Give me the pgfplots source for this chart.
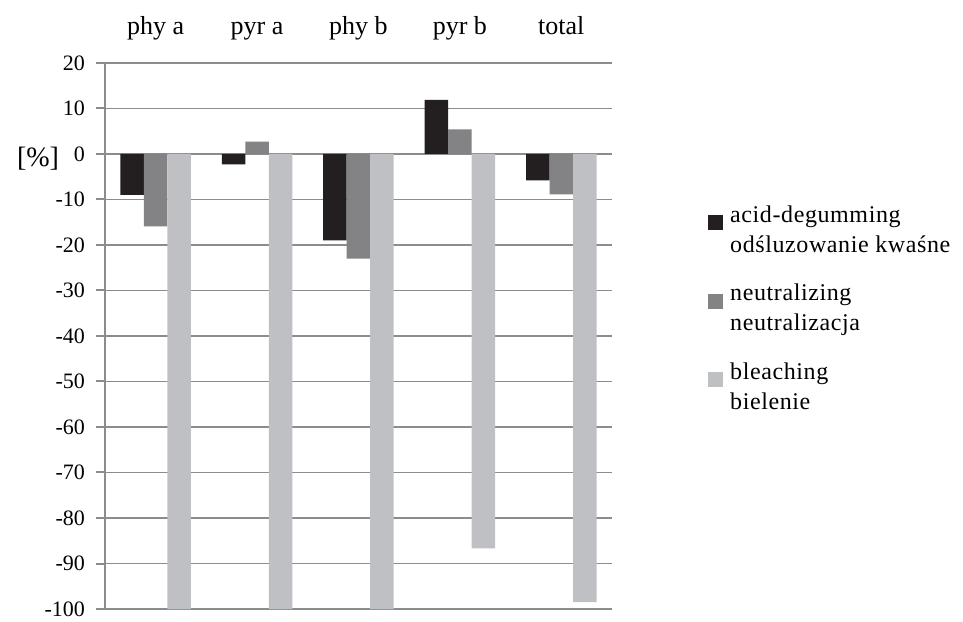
\documentclass[border=0pt]{standalone}
\usepackage{fontspec}
\setmainfont{Liberation Serif}
\newfontfamily\legfont[LetterSpace=2.5]{Liberation Serif}
\usepackage{pgfplots}
\pgfplotsset{compat=1.18}
\definecolor{c1}{HTML}{231F20}
\definecolor{c2}{HTML}{838386}
\definecolor{c3}{HTML}{BFC0C4}
\definecolor{gridc}{HTML}{8C8C8C}
\begin{document}
\begin{tikzpicture}
\path[use as bounding box] (-52.5pt,-6pt) rectangle (429pt,304.5pt);
\begin{axis}[
  scale only axis, width=253.5pt, height=273pt,
  clip=false,
  ymin=-100, ymax=20, ytick={-100,-90,...,20},
  xmin=-0.5, xmax=4.5, xtick={0,1,2,3,4},
  xticklabels={phy a, pyr a, phy b, pyr b, total},
  ybar=0pt, bar width=11.75pt,
  axis x line*=top, axis y line*=left,
  x axis line style={draw=none},
  xtick style={draw=none},
  xticklabel style={font=\fontsize{13}{15}\selectfont, anchor=base, yshift=9.5pt},
  ymajorgrids, grid style={gridc, line width=0.7pt},
  y axis line style={gridc, line width=1pt},
  ytick style={gridc, line width=1pt},
  tick align=outside, major tick length=4.5pt,
  yticklabel style={font=\fontsize{11}{13}\selectfont, xshift=-2pt},
  /pgf/number format/assume math mode=true,
  legend cell align=left,
  legend style={draw=none, fill=none, at={(1.189,0.740)}, anchor=north west,
    inner sep=0pt, font=\legfont\fontsize{12}{15}\selectfont, row sep=14.5pt,
    nodes={align=left, inner sep=0pt},
    /tikz/every odd column/.append style={column sep=3.5pt}},
  legend image code/.code={\fill[#1] (0pt,0pt) rectangle (7.5pt,7.5pt);},
]
\addplot[fill=c1, draw=none] coordinates {(0,-9) (1,-2.3) (2,-19) (3,11.9) (4,-5.8)};
\addplot[fill=c2, draw=none] coordinates {(0,-15.9) (1,2.7) (2,-23) (3,5.4) (4,-8.9)};
\addplot[fill=c3, draw=none] coordinates {(0,-100) (1,-100) (2,-100) (3,-86.7) (4,-98.5)};
\legend{{acid-degumming\\odśluzowanie kwaśne},{neutralizing\\neutralizacja},{bleaching\\bielenie}}
\node[font=\fontsize{14}{16}\selectfont] at (axis cs:-0.5,0) [xshift=-33.5pt, yshift=-2.5pt] {[\%]};
\end{axis}
\end{tikzpicture}
\end{document}
